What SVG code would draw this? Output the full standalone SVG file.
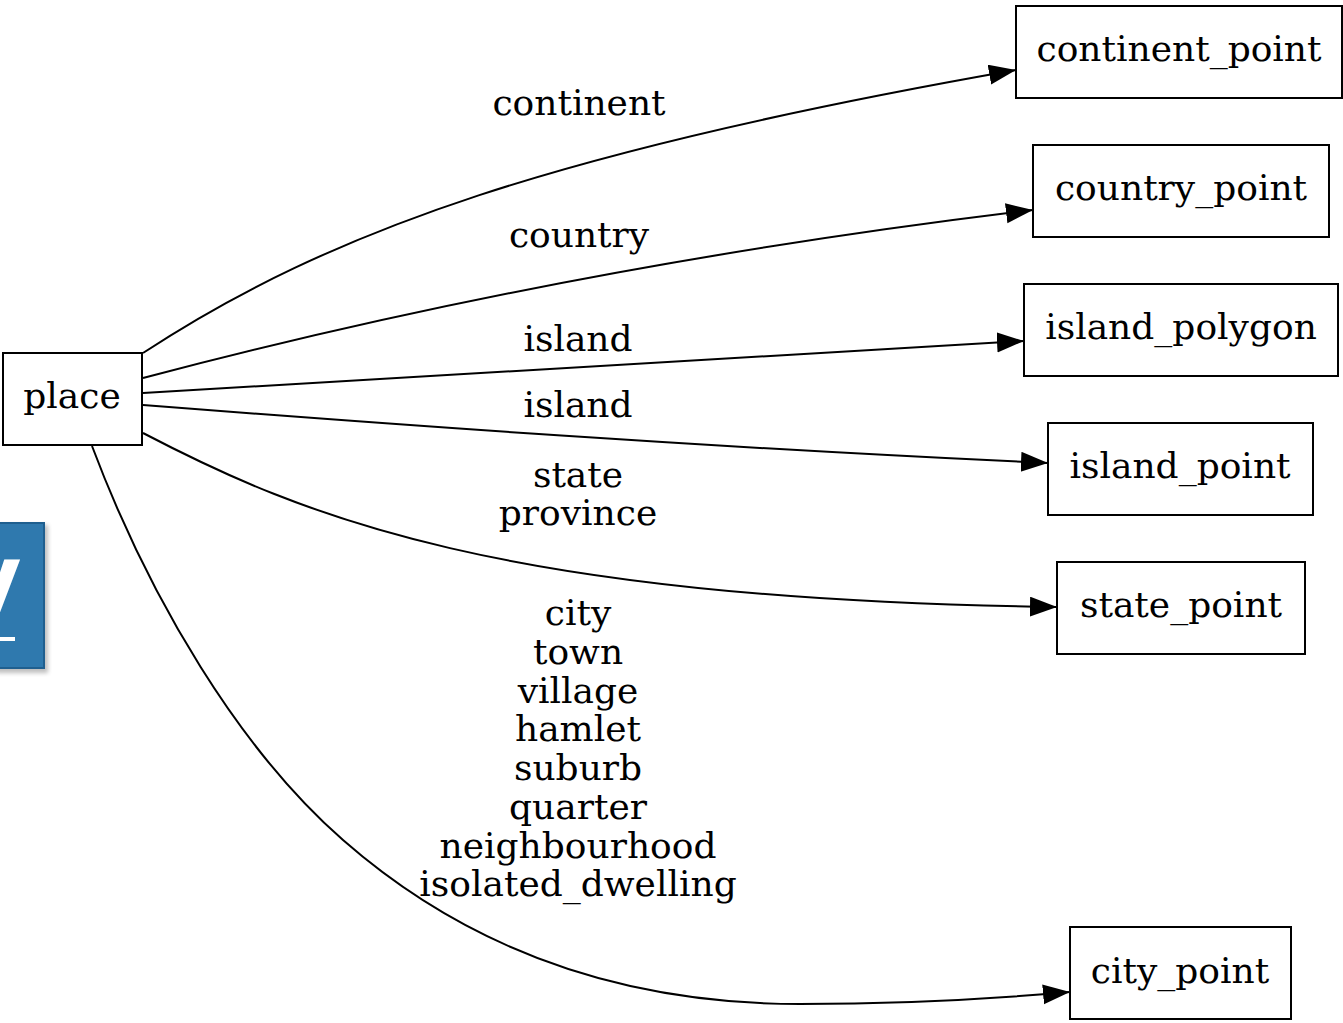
<svg xmlns="http://www.w3.org/2000/svg" width="1343" height="1023" viewBox="0 0 1343 1023">
<style>
.box{fill:#ffffff;stroke:#000000;stroke-width:2}
.lbl{font-family:"DejaVu Serif","Liberation Serif",serif;font-size:36px;fill:#000000;text-anchor:middle}
.edge{fill:none;stroke:#000000;stroke-width:2}
</style>
<defs>
<marker id="arr" markerUnits="userSpaceOnUse" markerWidth="28" markerHeight="22" refX="27" refY="10" orient="auto">
<path d="M0,0 L27,10 L0,20 Z" fill="#000000"/>
</marker>
<clipPath id="bclip"><rect x="0" y="523" width="44" height="145"/></clipPath>
<filter id="sh" x="-20%" y="-10%" width="140%" height="120%"><feGaussianBlur stdDeviation="2"/></filter>
</defs>
<rect width="1343" height="1023" fill="#ffffff"/>
<g id="badge">
<rect x="-4" y="525" width="52" height="148" fill="#000000" opacity="0.25" filter="url(#sh)"/>
<rect x="-2" y="523" width="46" height="145" fill="#2f79ae" stroke="#1f5f8f" stroke-width="2"/>
<g clip-path="url(#bclip)">
<text x="-37" y="609" font-family="DejaVu Sans" font-weight="bold" font-size="90" fill="#ffffff">y</text>
<rect x="0" y="637" width="15" height="4" fill="#ffffff"/>
</g>
</g>
<g id="connectors">
<path class="edge" marker-end="url(#arr)" d="M143,353 C330,230 560,150 1016,70"/>
<path class="edge" marker-end="url(#arr)" d="M143,378 C400,310 700,250 1033,210"/>
<path class="edge" marker-end="url(#arr)" d="M143,393 C400,380 700,358 1024,341"/>
<path class="edge" marker-end="url(#arr)" d="M143,405 C400,425 700,447 1048,463"/>
<path class="edge" marker-end="url(#arr)" d="M143,433 C300,515 500,600 1057,607"/>
<path class="edge" marker-end="url(#arr)" d="M92,446 C150,600 240,750 343,840 C480,960 640,1004 800,1004 C900,1004 980,1000 1070,992"/>
<text class="lbl" x="579" y="115">continent</text>
<text class="lbl" x="579" y="247">country</text>
<text class="lbl" x="578" y="351">island</text>
<text class="lbl" x="578" y="417">island</text>
<text class="lbl" x="578" y="487">state</text>
<text class="lbl" x="578" y="525">province</text>
<text class="lbl" x="578" y="625">city</text>
<text class="lbl" x="578" y="664">town</text>
<text class="lbl" x="578" y="703">village</text>
<text class="lbl" x="578" y="741">hamlet</text>
<text class="lbl" x="578" y="780">suburb</text>
<text class="lbl" x="578" y="819">quarter</text>
<text class="lbl" x="578" y="858">neighbourhood</text>
<text class="lbl" x="578" y="896">isolated_dwelling</text>
</g>
<g id="place"><rect class="box" x="3" y="353" width="139" height="92"/><text class="lbl" x="72" y="408">place</text></g>
<g id="continent_point"><rect class="box" x="1016" y="6" width="326" height="92"/><text class="lbl" x="1179" y="61">continent_point</text></g>
<g id="country_point"><rect class="box" x="1033" y="145" width="296" height="92"/><text class="lbl" x="1181" y="200">country_point</text></g>
<g id="island_polygon"><rect class="box" x="1024" y="284" width="314" height="92"/><text class="lbl" x="1181" y="339">island_polygon</text></g>
<g id="island_point"><rect class="box" x="1048" y="423" width="265" height="92"/><text class="lbl" x="1180" y="478">island_point</text></g>
<g id="state_point"><rect class="box" x="1057" y="562" width="248" height="92"/><text class="lbl" x="1181" y="617">state_point</text></g>
<g id="city_point"><rect class="box" x="1070" y="927" width="221" height="92"/><text class="lbl" x="1180" y="983">city_point</text></g>
</svg>
